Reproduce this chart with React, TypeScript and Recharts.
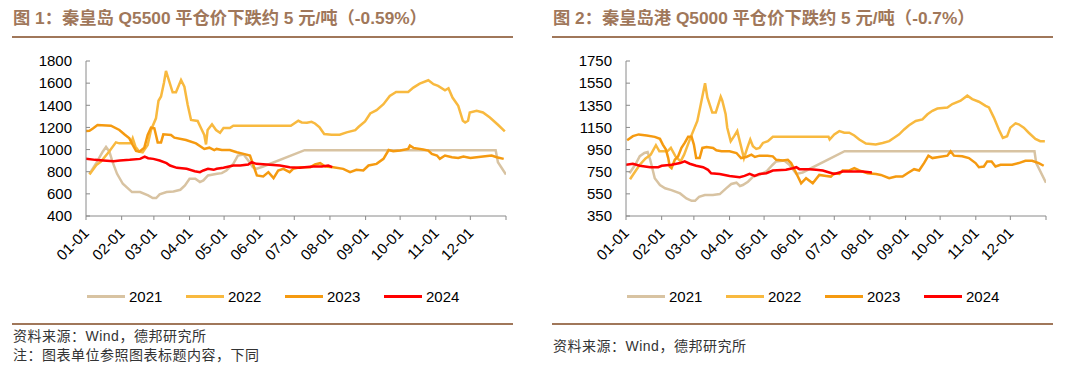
import React from 'react';
import { LineChart, Line, XAxis, YAxis } from 'recharts';

// day-of-year ticks for the month starts, last one is the year end
const MONTH_TICKS = [0, 31, 59, 90, 120, 151, 181, 212, 243, 273, 304, 334, 365];
const MONTH_LABELS = ['01-01', '02-01', '03-01', '04-01', '05-01', '06-01', '07-01', '08-01', '09-01', '10-01', '11-01', '12-01', ''];

const YEARS = ['2021', '2022', '2023', '2024'];
const COLORS = ['#d8c3a2', '#f8b93f', '#f59a10', '#ff0000'];

const Q5500_TICKS = [400, 600, 800, 1000, 1200, 1400, 1600, 1800];
const Q5000_TICKS = [350, 550, 750, 950, 1150, 1350, 1550, 1750];

// [day of year, price]
const Q5500_2021 = [
  [3, 781], [9, 880], [14.5, 981], [17.4, 1024], [20.3, 981], [23, 891], [27, 781], [32, 691], [40, 616], [47, 616],
  [54, 586], [58, 562], [61, 562], [64, 595], [70, 616], [76, 622], [82, 637], [86, 676], [90, 736], [95, 736],
  [99, 706], [102, 721], [106, 766], [114, 781], [118, 787], [122, 811], [128, 871], [132, 946], [137, 955], [141, 901],
  [145, 841], [148, 826], [154, 847], [190, 995], [356, 995], [358, 886], [365, 775],
];
const Q5500_2022 = [
  [3, 775], [9, 860], [13, 891], [20, 981], [26, 1065], [29, 1056], [39, 1056], [40.6, 1101], [43, 1026], [46.3, 981],
  [49.2, 975], [53.6, 1041], [56.5, 1177], [60.8, 1282], [63, 1441], [65.2, 1480], [67.8, 1606], [69.5, 1710], [72.4, 1613], [75.3, 1517],
  [78.2, 1517], [82.6, 1628], [85.5, 1568], [88.4, 1403], [91.3, 1267], [97, 1258], [100, 1192], [102.8, 1132], [104.3, 1046], [105.7, 1177],
  [109.5, 1228], [113, 1177], [116.5, 1152], [119.5, 1194], [125, 1194], [128, 1215], [178, 1215], [184.5, 1260], [187.5, 1245], [192, 1242],
  [196, 1251], [199, 1236], [203, 1200], [207, 1140], [213.5, 1134], [220.5, 1134], [226.5, 1155], [234, 1176], [237, 1206], [242.5, 1254],
  [247, 1326], [252.5, 1356], [258.5, 1410], [264, 1485], [269.5, 1521], [280, 1521], [284.5, 1560], [290, 1596], [297.5, 1626], [302, 1590],
  [306, 1575], [312, 1536], [315, 1554], [318.5, 1470], [323.5, 1395], [327.5, 1260], [329.5, 1245], [332, 1260], [333.5, 1335], [339.5, 1350],
  [345, 1335], [351, 1290], [358, 1224], [364, 1164],
];
const Q5500_2023 = [
  [0, 1168], [3, 1170], [6, 1190], [10, 1222], [21.7, 1216], [29, 1177], [33.3, 1138], [37.7, 1101], [40.6, 1041], [43.5, 987],
  [46.3, 981], [50.7, 1017], [53.6, 1132], [56.5, 1198], [59.4, 1192], [60.8, 1132], [62.3, 1065], [65.2, 1065], [67.2, 1138], [73.9, 1132],
  [76.8, 1108], [86.9, 1086], [95.6, 1056], [102.8, 1005], [107.2, 1017], [111.5, 996], [113.5, 1006], [118, 996], [125, 996], [131, 976],
  [137, 961], [142.5, 946], [145.5, 856], [148.5, 766], [154, 757], [158.5, 796], [163, 742], [167, 811], [171.5, 826], [177, 796],
  [180, 826], [186, 841], [195, 841], [199, 865], [203.5, 877], [208, 847], [215, 841], [223.5, 826], [229.5, 796], [235, 817],
  [241, 811], [245.5, 856], [252.5, 871], [258.5, 916], [263, 996], [267, 985], [273, 991], [280, 1006], [281.5, 1036], [284.5, 1015],
  [293, 1000], [297.5, 991], [300.5, 961], [305, 946], [307.5, 916], [312, 946], [318, 931], [323.5, 925], [328, 937], [334, 925],
  [339.5, 931], [345, 937], [352.5, 946], [357, 931], [363, 916],
];
const Q5500_2024 = [
  [0, 917], [8, 907], [15, 901], [24, 895], [29.5, 901], [38, 907], [47, 916], [51, 937], [54, 922], [58.5, 916],
  [64, 901], [70, 877], [73, 856], [79, 835], [87.5, 826], [94.5, 805], [99, 796], [102, 811], [106, 826], [111, 817],
  [113.5, 826], [119.5, 835], [128, 856], [134, 856], [141, 865], [144, 886], [148, 871], [157, 865], [168.5, 856], [177, 841],
  [186, 835], [190, 841], [197.5, 847], [205, 847], [210.5, 856], [214, 841],
];

const Q5000_2021 = [
  [3, 736], [8, 813], [12, 890], [16, 919], [18.8, 928], [21, 860], [25, 691], [29.5, 630], [34, 600], [39.5, 584],
  [47, 554], [52.5, 508], [57, 487], [60, 487], [63.5, 523], [68.5, 539], [75.5, 539], [81.5, 548], [87, 600], [91.5, 639],
  [96, 651], [99, 621], [101.5, 630], [106, 660], [110.5, 706], [116, 721], [122, 752], [127.5, 813], [130.5, 843], [137.5, 852],
  [142, 813], [148, 730], [153.5, 743], [190, 935], [355, 935], [356.5, 828], [365, 651],
];
const Q5000_2022 = [
  [3.5, 682], [8, 752], [12, 813], [17, 870], [21.5, 904], [26, 989], [29, 934], [36, 934], [39, 965], [43, 889],
  [47.5, 843], [50.5, 904], [56, 1056], [62, 1208], [65, 1360], [68.7, 1549], [70.7, 1421], [75, 1284], [78, 1284], [82.3, 1427],
  [83.7, 1391], [86.6, 1269], [88, 1147], [91, 1025], [94, 1071], [96.7, 1117], [99.6, 995], [102.5, 873], [105.4, 965], [108, 1040],
  [110.3, 980], [113.2, 956], [116, 965], [119, 1010], [123.3, 1026], [127.6, 1065], [176, 1065], [177, 1041], [181, 1087], [185.4, 1117],
  [189.7, 1102], [194, 1102], [198.4, 1077], [202.7, 1041], [208.5, 1004], [217, 995], [223, 1010], [228.7, 1026], [233, 1056], [237.4, 1087],
  [241.7, 1132], [246, 1169], [251.8, 1208], [257.6, 1223], [262, 1269], [266.3, 1300], [270.6, 1321], [279.3, 1330], [283.6, 1361], [290.8, 1391],
  [296.6, 1437], [300.9, 1406], [306.7, 1382], [312.5, 1345], [315.4, 1330], [319.7, 1239], [324, 1132], [327.5, 1056], [331.2, 1071], [334, 1148],
  [338.5, 1187], [341.3, 1178], [345.7, 1148], [350, 1102], [355.8, 1047], [360, 1026], [364, 1026],
];
const Q5000_2023 = [
  [1, 1035], [6, 1071], [11, 1087], [18, 1077], [25, 1065], [29.5, 1047], [32, 995], [34.7, 950], [36.7, 873], [38, 797],
  [39.6, 782], [42.4, 858], [45.3, 889], [48.2, 965], [51, 1010], [54, 1065], [57, 1065], [59, 995], [61, 873], [64, 873],
  [66.4, 965], [70, 974], [75.7, 965], [78.5, 943], [83, 934], [90, 934], [96, 919], [100, 873], [104.5, 883], [109, 904],
  [112, 883], [116, 895], [123, 895], [127.6, 889], [130.5, 858], [136.3, 852], [140.6, 858], [143.5, 828], [148, 736], [152.2, 645],
  [156.5, 691], [162.3, 645], [168, 721], [174, 712], [178, 706], [181, 736], [185.4, 730], [188.3, 761], [194.1, 761], [198.4, 782],
  [202.7, 761], [209.9, 736], [217.2, 730], [221.5, 721], [228.7, 691], [234.5, 706], [240.3, 706], [244.6, 736], [250.4, 773], [254.7, 761],
  [259, 828], [262.8, 895], [266.3, 873], [272, 883], [279.3, 895], [282.1, 934], [285, 895], [292.2, 889], [298, 873], [303.8, 828],
  [306.7, 791], [311, 797], [313.9, 843], [317.7, 843], [321.1, 797], [325.5, 813], [329.8, 813], [335.6, 813], [341.3, 828], [347.1, 849],
  [352.9, 849], [358.7, 828], [363, 804],
];
const Q5000_2024 = [
  [0, 813], [6, 822], [12, 804], [21, 791], [28, 791], [31, 804], [39.6, 813], [47, 828], [51, 843], [55.4, 822],
  [61, 804], [67, 791], [71.3, 767], [74, 736], [81.4, 730], [90, 712], [98.8, 700], [103, 712], [107.4, 730], [111.8, 712],
  [116, 730], [122, 736], [127.6, 761], [139, 767], [145, 782], [148, 791], [150.7, 773], [159.4, 773], [165.2, 767], [171, 761],
  [176.7, 743], [181, 730], [188.3, 752], [197, 752], [205.6, 752], [213.7, 743],
];

const FONT = "'Liberation Sans', Arial, 'Noto Sans CJK SC', sans-serif";
const BROWN = '#a0775a';

const toPoints = (rows: number[][]) => rows.map(([d, v]) => ({ d, v }));

function MonthTick({ x, y, payload }: any) {
  const label = MONTH_LABELS[MONTH_TICKS.indexOf(payload.value)];
  return (
    <text
      x={0}
      y={0}
      transform={`translate(${x + 4},${y + 12}) rotate(-45)`}
      textAnchor="end"
      fontSize={15}
      fill="#000"
      fontFamily={FONT}
    >
      {label}
    </text>
  );
}

function PriceChart({ series, yTicks }: { series: number[][][]; yTicks: number[] }) {
  return (
    <LineChart width={540} height={290} margin={{ top: 61, right: 34, left: 26, bottom: 14 }}>
      <XAxis
        dataKey="d"
        type="number"
        domain={[0, 365]}
        ticks={MONTH_TICKS}
        interval={0}
        height={60}
        tickSize={4}
        stroke="#8a8a8a"
        tick={<MonthTick />}
        allowDataOverflow
      />
      <YAxis
        type="number"
        domain={[yTicks[0], yTicks[yTicks.length - 1]]}
        ticks={yTicks}
        interval={0}
        width={60}
        tickSize={-4}
        tickMargin={18}
        stroke="#8a8a8a"
        tick={{ fill: '#000', fontSize: 15, fontFamily: FONT }}
        allowDataOverflow
      />
      {series.map((rows, i) => (
        <Line
          key={YEARS[i]}
          data={toPoints(rows)}
          dataKey="v"
          type="linear"
          stroke={COLORS[i]}
          strokeWidth={2.5}
          dot={false}
          activeDot={false}
          isAnimationActive={false}
        />
      ))}
    </LineChart>
  );
}

function Legend({ left }: { left: number }) {
  return (
    <>
      {YEARS.map((year, i) => (
        <div
          key={year}
          style={{ position: 'absolute', left: left + i * 99, top: 286, height: 20, display: 'flex', alignItems: 'center' }}
        >
          <div style={{ width: 38, height: 3, background: COLORS[i] }} />
          <span style={{ marginLeft: 4, fontSize: 15, color: '#000', fontFamily: FONT }}>{year}</span>
        </div>
      ))}
    </>
  );
}

function Panel({ left, title, series, yTicks, notes }: { left: number; title: string; series: number[][][]; yTicks: number[]; notes: string[] }) {
  return (
    <div style={{ position: 'absolute', left, top: 0, width: 540, height: 369 }}>
      <div style={{ position: 'absolute', left: 13, top: 7, fontSize: 17.3, fontWeight: 'bold', color: BROWN, fontFamily: FONT, whiteSpace: 'nowrap', lineHeight: '22px' }}>
        {title}
      </div>
      <div style={{ position: 'absolute', left: 12, top: 36, width: 501, height: 2, background: BROWN }} />
      <div style={{ position: 'absolute', left: 0, top: 0 }}>
        <PriceChart series={series} yTicks={yTicks} />
      </div>
      <Legend left={87} />
      <div style={{ position: 'absolute', left: 12, top: 323, width: 501, height: 2, background: BROWN }} />
      {notes.map((n, i) => (
        <div key={i} style={{ position: 'absolute', left: 13, top: (notes.length > 1 ? 327 : 337) + i * 19, fontSize: 14, letterSpacing: 0.5, color: '#333', fontFamily: FONT, whiteSpace: 'nowrap', lineHeight: '19px' }}>
          {n}
        </div>
      ))}
    </div>
  );
}

export default function App() {
  return (
    <div style={{ position: 'absolute', left: 0, top: 0, width: 1080, height: 369, background: '#fff', overflow: 'hidden' }}>
      <Panel
        left={0}
        title="图 1：秦皇岛 Q5500 平仓价下跌约 5 元/吨（-0.59%）"
        series={[Q5500_2021, Q5500_2022, Q5500_2023, Q5500_2024]}
        yTicks={Q5500_TICKS}
        notes={['资料来源：Wind，德邦研究所', '注：图表单位参照图表标题内容，下同']}
      />
      <Panel
        left={540}
        title="图 2：秦皇岛港 Q5000 平仓价下跌约 5 元/吨（-0.7%）"
        series={[Q5000_2021, Q5000_2022, Q5000_2023, Q5000_2024]}
        yTicks={Q5000_TICKS}
        notes={['资料来源：Wind，德邦研究所']}
      />
    </div>
  );
}
